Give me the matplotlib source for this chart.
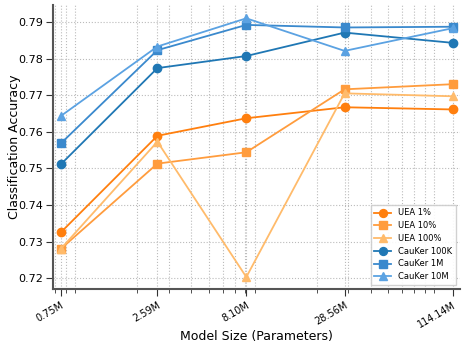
import matplotlib
matplotlib.use("Agg")
import matplotlib.pyplot as plt
import numpy as np

# model sizes (parameters) and tick labels
sizes = [0.75e6, 2.59e6, 8.10e6, 28.56e6, 114.14e6]
size_labels = ["0.75M", "2.59M", "8.10M", "28.56M", "114.14M"]

# accuracy per series
uea_1 = [0.7325, 0.7589, 0.7637, 0.7667, 0.7661]
uea_10 = [0.7280, 0.7513, 0.7544, 0.7716, 0.7730]
uea_100 = [0.7280, 0.7573, 0.7203, 0.7705, 0.7697]
cauker_100k = [0.7511, 0.7774, 0.7807, 0.7871, 0.7843]
cauker_1m = [0.7568, 0.7823, 0.7892, 0.7885, 0.7887]
cauker_10m = [0.7643, 0.7833, 0.7910, 0.7821, 0.7883]

series = [
    ("UEA 1%", uea_1, "#ff7f0e", "o"),
    ("UEA 10%", uea_10, "#ff9c3d", "s"),
    ("UEA 100%", uea_100, "#ffbb6b", "^"),
    ("CauKer 100K", cauker_100k, "#1f77b4", "o"),
    ("CauKer 1M", cauker_1m, "#3a89cd", "s"),
    ("CauKer 10M", cauker_10m, "#5ba2e2", "^"),
]

fig, ax = plt.subplots(figsize=(4.62, 3.43), dpi=100)

for name, vals, col, mk in series:
    ax.plot(sizes, vals, color=col, marker=mk, markersize=6, linewidth=1.3, label=name)

ax.set_xscale("log")
ax.set_xticks(sizes)
ax.set_xticklabels(size_labels, rotation=30, ha="right", fontsize=7,
                   rotation_mode="anchor")
ax.set_xlim(0.68e6, 125e6)
ax.set_ylim(0.717, 0.7946)
ax.set_yticks(np.arange(0.72, 0.7951, 0.01))
ax.tick_params(axis="y", labelsize=8, pad=2)
ax.tick_params(axis="x", pad=3)
ax.tick_params(which="major", length=5, color="#333333")
ax.tick_params(which="minor", length=3, color="#333333")

ax.grid(True, which="both", linestyle=":", color="#bbbbbb", linewidth=0.8)

for s in ["top", "right"]:
    ax.spines[s].set_visible(False)
for s in ["left", "bottom"]:
    ax.spines[s].set_color("#555555")
    ax.spines[s].set_linewidth(1.5)

ax.set_xlabel("Model Size (Parameters)", fontsize=9)
ax.set_ylabel("Classification Accuracy", fontsize=9)
ax.xaxis.set_label_coords(0.5, -0.145)
ax.yaxis.set_label_coords(-0.08, 0.5)

ax.legend(loc="lower right", fontsize=6, framealpha=0.9, edgecolor="#cccccc", fancybox=False,
          handlelength=2.0, borderpad=0.45, labelspacing=0.45, markerscale=0.95)

fig.subplots_adjust(left=0.115, right=0.995, top=0.985, bottom=0.157)
fig.savefig("out.png", dpi=100)
